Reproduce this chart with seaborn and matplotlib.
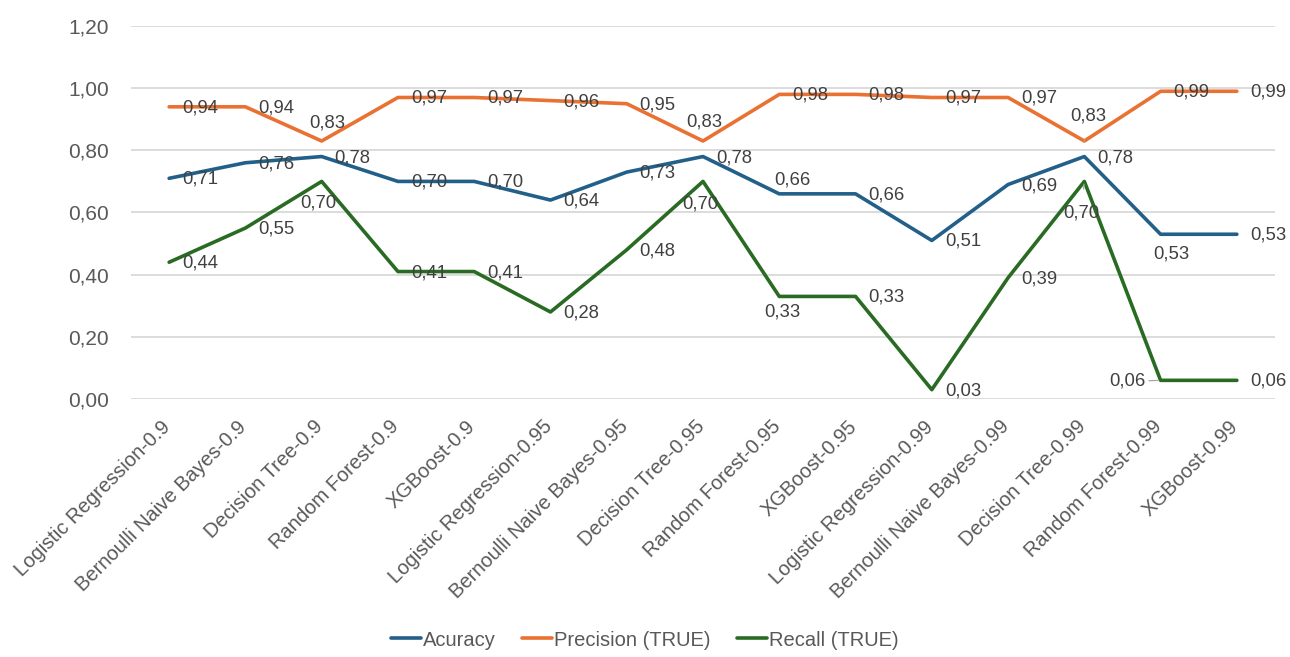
import matplotlib
matplotlib.use("Agg")
import matplotlib.pyplot as plt
import matplotlib.transforms as mtransforms
import seaborn as sns
import pandas as pd

# Model / threshold combinations on the x axis
models = [
    "Logistic Regression-0.9", "Bernoulli Naive Bayes-0.9", "Decision Tree-0.9",
    "Random Forest-0.9", "XGBoost-0.9",
    "Logistic Regression-0.95", "Bernoulli Naive Bayes-0.95", "Decision Tree-0.95",
    "Random Forest-0.95", "XGBoost-0.95",
    "Logistic Regression-0.99", "Bernoulli Naive Bayes-0.99", "Decision Tree-0.99",
    "Random Forest-0.99", "XGBoost-0.99",
]

accuracy = [0.71, 0.76, 0.78, 0.70, 0.70, 0.64, 0.73, 0.78, 0.66, 0.66,
            0.51, 0.69, 0.78, 0.53, 0.53]
precision_true = [0.94, 0.94, 0.83, 0.97, 0.97, 0.96, 0.95, 0.83, 0.98, 0.98,
                  0.97, 0.97, 0.83, 0.99, 0.99]
recall_true = [0.44, 0.55, 0.70, 0.41, 0.41, 0.28, 0.48, 0.70, 0.33, 0.33,
               0.03, 0.39, 0.70, 0.06, 0.06]

series_names = ["Acuracy", "Precision (TRUE)", "Recall (TRUE)"]
series_values = [accuracy, precision_true, recall_true]
colors = ["#22608A", "#E97132", "#2A6B24"]

y_ticks = [0.0, 0.2, 0.4, 0.6, 0.8, 1.0, 1.2]

# Data-label placement: default is to the right of the point; these are nudged
# (dx, dy in pixels, dy downward) and centred on the given offset.
label_nudges = {
    ("Precision (TRUE)", 2): (6, -18),
    ("Precision (TRUE)", 7): (1, -19),
    ("Precision (TRUE)", 12): (4, -25),
    ("Acuracy", 8): (13, -14),
    ("Acuracy", 13): (11, 20),
    ("Recall (TRUE)", 2): (-3, 22),
    ("Recall (TRUE)", 7): (-3, 23),
    ("Recall (TRUE)", 8): (3, 16),
    ("Recall (TRUE)", 12): (-3, 32),
    ("Recall (TRUE)", 13): (-33, 1),
}
leader_lines = {("Precision (TRUE)", 12), ("Recall (TRUE)", 12), ("Recall (TRUE)", 13)}

rows = []
for name, vals in zip(series_names, series_values):
    for m, v in zip(models, vals):
        rows.append({"Model": m, "Metric": name, "Value": v})
df = pd.DataFrame(rows)

sns.set_theme(style="white")
plt.rcParams["font.family"] = ["Liberation Sans", "DejaVu Sans"]

DPI = 100
fig = plt.figure(figsize=(12.9, 6.57), dpi=DPI)
ax = fig.add_axes([131 / 1290, 1 - 399 / 657, (1275 - 131) / 1290, (399 - 26) / 657])

sns.lineplot(data=df, x="Model", y="Value", hue="Metric", hue_order=series_names,
             palette=colors, sort=False, linewidth=2.6, ax=ax, legend=True,
             zorder=3)

ax.set_xlim(-0.5, len(models) - 0.5)
ax.set_ylim(0, 1.2)
ax.set_yticks(y_ticks)
ax.set_yticklabels([f"{t:.2f}".replace(".", ",") for t in y_ticks])
ax.yaxis.grid(True, color="#D9D9D9", linewidth=1.3, zorder=0)
ax.xaxis.grid(False)
for s in ax.spines.values():
    s.set_visible(False)
ax.set_xlabel("")
ax.set_ylabel("")
ax.tick_params(axis="y", length=0, pad=16, labelsize=15, labelcolor="#595959")
ax.tick_params(axis="x", length=0, pad=13, labelsize=14.5, labelcolor="#595959")
ax.set_xticks(range(len(models)))
ax.set_xticklabels(models, rotation=45, ha="right", rotation_mode="anchor")
shift = mtransforms.ScaledTranslation(-6 / 72, 0, fig.dpi_scale_trans)
for lbl in ax.get_xticklabels():
    lbl.set_transform(lbl.get_transform() + shift)

px = 72.0 / DPI  # pixels -> points
for name, vals in zip(series_names, series_values):
    for i, v in enumerate(vals):
        key = (name, i)
        txt = f"{v:.2f}".replace(".", ",")
        if key in label_nudges:
            dx, dy = label_nudges[key]
            ha = "center"
        else:
            dx, dy = 13, 1
            ha = "left"
        arrow = None
        if key in leader_lines:
            arrow = dict(arrowstyle="-", color="#A6A6A6", lw=0.9,
                         shrinkA=9, shrinkB=2)
        ax.annotate(txt, xy=(i, v), xytext=(dx * px, -dy * px),
                    textcoords="offset points", ha=ha, va="center",
                    fontsize=13.3, color="#404040", zorder=5,
                    arrowprops=arrow)

handles, labels = ax.get_legend_handles_labels()
ax.legend_.remove()
for h in handles:
    h.set_linewidth(2.6)
fig.legend(handles, labels, loc="center", bbox_to_anchor=(0.5, 1 - 640 / 657),
           ncol=3, frameon=False, handlelength=1.5, handletextpad=0.1,
           columnspacing=1.3, prop={"size": 14.5}, labelcolor="#595959")

fig.savefig("out.png", dpi=DPI)
